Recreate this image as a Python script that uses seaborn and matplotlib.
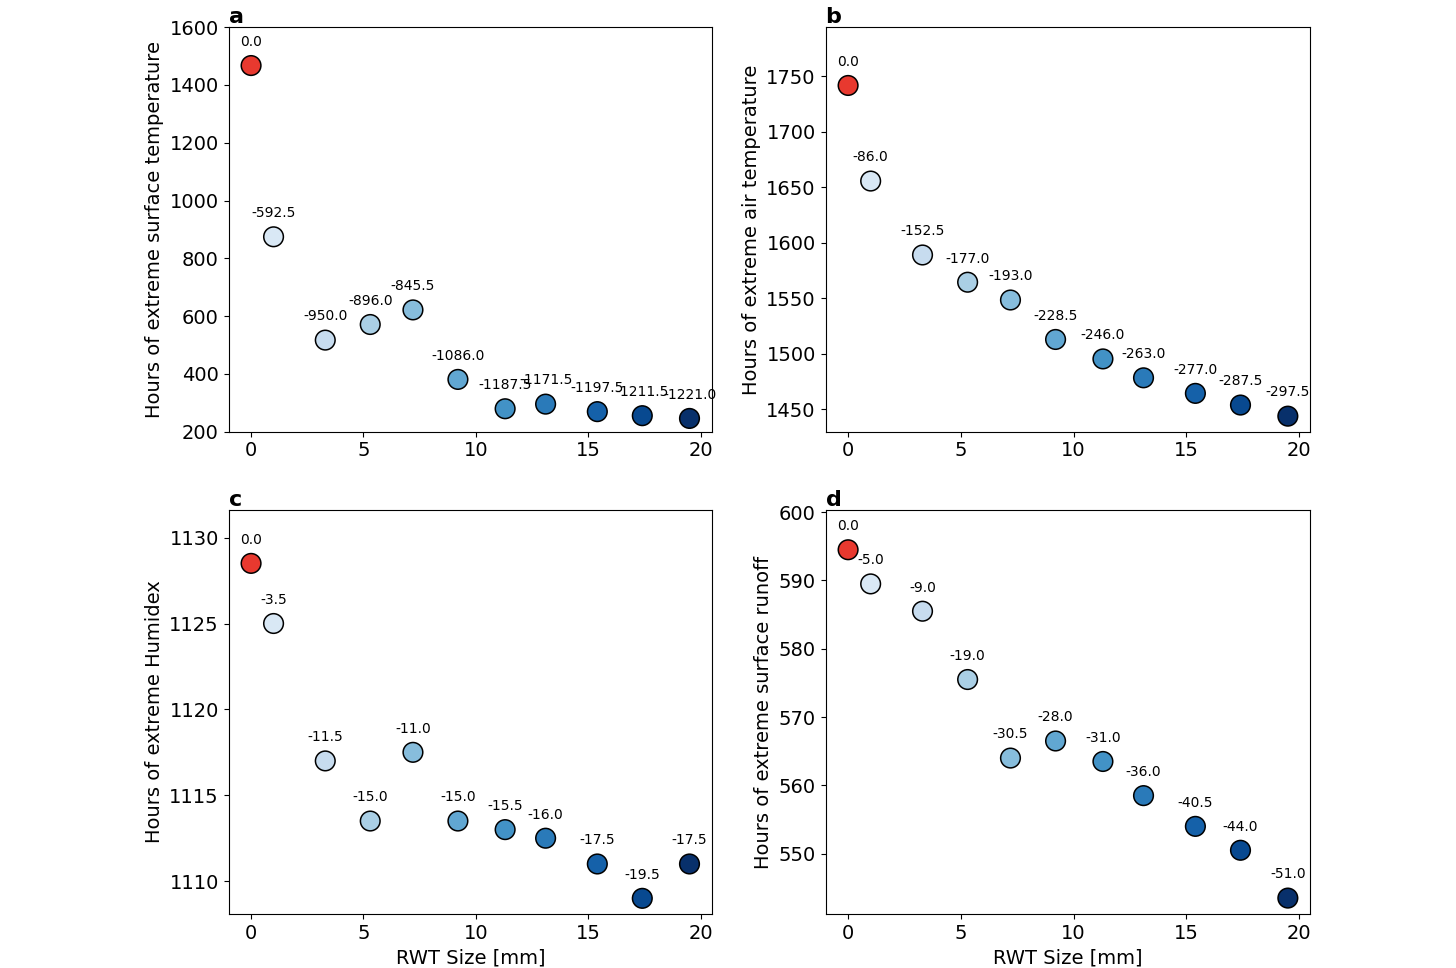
import matplotlib
matplotlib.use("Agg")
import matplotlib.pyplot as plt
import seaborn as sns
import numpy as np
import pandas as pd

sns.set_style("ticks")
plt.rcParams['font.family'] = ['DejaVu Sans']
for key in ['text.color', 'axes.labelcolor', 'xtick.color', 'ytick.color', 'axes.edgecolor']:
    plt.rcParams[key] = 'black'

rwt_size = [0, 1.0, 3.3, 5.3, 7.2, 9.2, 11.3, 13.1, 15.4, 17.4, 19.5]
surface_temp = [1467, 874.5, 517, 571, 621.5, 381, 279.5, 295.5, 269.5, 255.5, 246]
air_temp = [1741.5, 1655.5, 1589, 1564.5, 1548.5, 1513, 1495.5, 1478.5, 1464.5, 1454, 1444]
humidex = [1128.5, 1125, 1117, 1113.5, 1117.5, 1113.5, 1113, 1112.5, 1111, 1109, 1111]
runoff = [594.5, 589.5, 585.5, 575.5, 564, 566.5, 563.5, 558.5, 554, 550.5, 543.5]

panels = [
    ("a", surface_temp, "Hours of extreme surface temperature", (200, 1600), [0.157, 0.554, 0.332, 0.418]),
    ("b", air_temp, "Hours of extreme air temperature", (1430, 1794), [0.567, 0.554, 0.333, 0.418]),
    ("c", humidex, "Hours of extreme Humidex", (1108.1, 1131.6), [0.157, 0.056, 0.332, 0.417]),
    ("d", runoff, "Hours of extreme surface runoff", (541.2, 600.3), [0.567, 0.056, 0.333, 0.417]),
]

blues = plt.cm.Blues(np.linspace(0.15, 1.0, len(rwt_size) - 1))
colors = ["#e8392f"] + [tuple(c) for c in blues]

fig = plt.figure(figsize=(14.56, 9.68), dpi=100)
for letter, vals, ylabel, ylim, rect in panels:
    ax = fig.add_axes(rect)
    df = pd.DataFrame({"x": rwt_size, "y": vals, "i": range(len(vals))})
    sns.scatterplot(data=df, x="x", y="y", hue="i", palette=colors, s=200,
                    edgecolor="black", linewidth=1.1, legend=False, ax=ax, zorder=3)
    for x, y in zip(rwt_size, vals):
        ax.annotate(f"{y - vals[0]:.1f}", (x, y), xytext=(0, 12), textcoords="offset points",
                    ha="center", va="bottom", fontsize=10)
    ax.set_ylim(*ylim)
    ax.set_xlim(-1, 20.5)
    ax.set_xticks([0, 5, 10, 15, 20])
    ax.set_ylabel(ylabel, fontsize=14)
    ax.set_xlabel("RWT Size [mm]" if letter in "cd" else "", fontsize=14)
    ax.tick_params(labelsize=14)
    ax.text(0.0, 1.0, letter, transform=ax.transAxes, fontsize=16, fontweight="bold",
            ha="left", va="bottom")

fig.savefig("out.png", dpi=100)
